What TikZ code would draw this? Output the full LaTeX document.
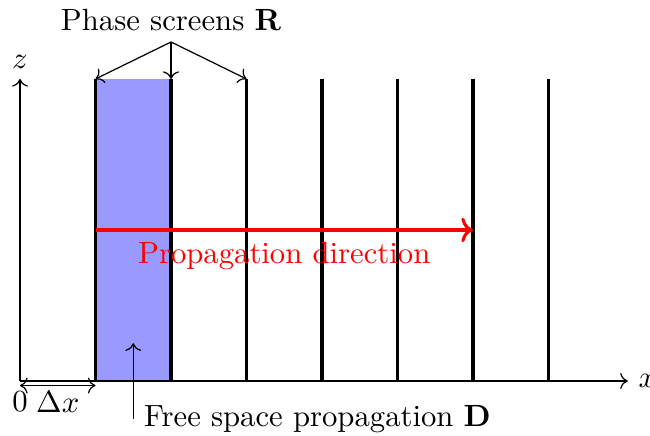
\documentclass[tikz,border=0pt]{standalone}
\usetikzlibrary{arrows.meta}
\begin{document}
\begin{tikzpicture}[x=24.6pt,y=24.6pt,
  screen/.style={line width=1pt},
  axis/.style={->},
  propa/.style={->,red,line width=1pt},
  thin arrow/.style={->}]
\useasboundingbox (-0.265,-0.728) rectangle (8.344,5.046);
% shaded region
\fill[blue!40] (1,0) rectangle (2,4);
% axes
\coordinate (O) at (0,0);
\coordinate (xend) at (8.05,0);
\coordinate (zend) at (0,4);
\draw[axis] (O) -- (xend) node[right] {$x$};
\draw[axis] (O) -- (zend) node[above] {$z$};
% screens
\foreach \i in {1,...,7}{
  \coordinate (b\i) at (\i,0);
  \coordinate (t\i) at (\i,4);
  \draw[screen] (b\i) -- (t\i);
}
% phase screens label
\coordinate (ps) at (2,4.49);
\node[above] (pslabel) at (ps) {Phase screens $\mathbf{R}$};
\foreach \i in {1,2,3}{\draw[thin arrow] (ps) -- (t\i);}
% propagation direction
\coordinate (pa) at (1,2);
\coordinate (pb) at (6,2);
\draw[propa] (pa) -- (pb) node[midway,below] (pd) {Propagation direction};
% dx
\coordinate (d0) at (0,-0.06);
\coordinate (d1) at (1,-0.06);
\draw[<->] (d0) -- (d1);
\node[below] (zero) at (0,0) {$0$};
\node[below] (dx) at (0.5,0) {$\Delta x$};
% free space propagation
\coordinate (fa) at (1.5,-0.5);
\coordinate (fb) at (1.5,0.5);
\draw[thin arrow] (fa) -- (fb);
\node[right] (fs) at (fa) {Free space propagation $\mathbf{D}$};
\end{tikzpicture}
\end{document}
